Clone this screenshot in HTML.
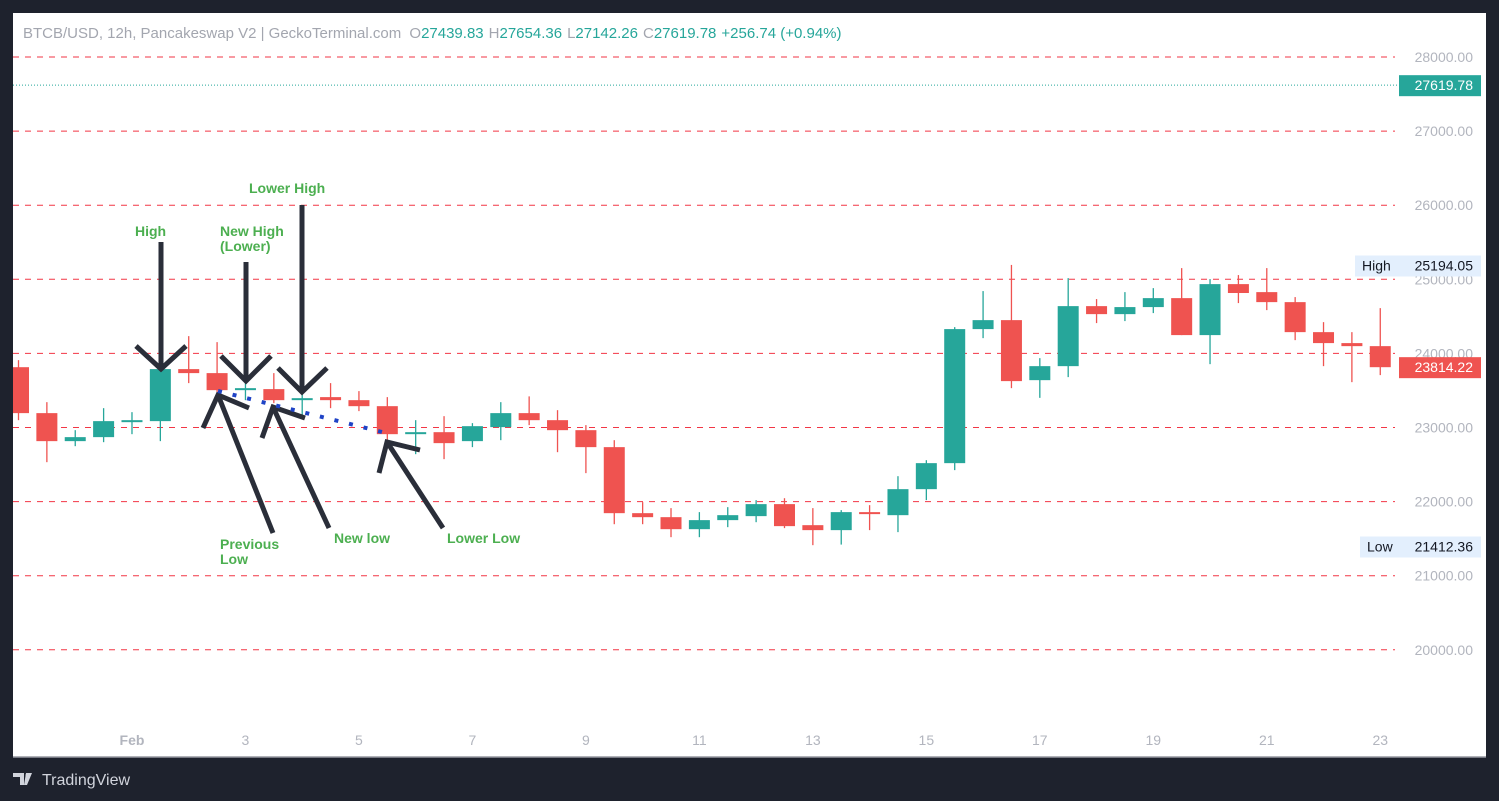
<!DOCTYPE html>
<html><head><meta charset="utf-8">
<style>
html,body{margin:0;padding:0;background:#1e222d;width:1499px;height:801px;overflow:hidden;font-family:"Liberation Sans",sans-serif;}
svg{display:block}
</style></head>
<body>
<svg id="chart" width="1499" height="801" xmlns="http://www.w3.org/2000/svg">
  <defs><clipPath id="plot"><rect x="13" y="13" width="1473" height="744"/></clipPath></defs>
  <rect x="0" y="0" width="1499" height="801" fill="#1e222d"/>
  <rect x="13" y="13" width="1473" height="744" fill="#ffffff"/>
  <line x1="13" y1="757" x2="1486" y2="757" stroke="#9598a1" stroke-width="1.5"/>
  <g id="grid"></g>
  <g id="ylabels"></g>
  <g id="xlabels"></g>
  <g id="candles" clip-path="url(#plot)"></g>
  <g id="anno"></g>
  <text x="23" y="38" font-size="15" fill="#a3a6af">BTCB/USD, 12h, Pancakeswap V2 | GeckoTerminal.com <tspan dx="4">O</tspan><tspan fill="#26a69a">27439.83</tspan><tspan dx="5">H</tspan><tspan fill="#26a69a">27654.36</tspan><tspan dx="5">L</tspan><tspan fill="#26a69a">27142.26</tspan><tspan dx="5">C</tspan><tspan fill="#26a69a">27619.78</tspan><tspan dx="5" fill="#26a69a">+256.74 (+0.94%)</tspan></text>
  <g>
    <path d="M13 773h11v12h-4v-8h-7z M26 773h6l-5 12h-3z" fill="#d1d4dc"/>
    <circle cx="27.5" cy="775.5" r="2" fill="#d1d4dc"/>
    <text x="42" y="785" font-size="16" fill="#d1d4dc">TradingView</text>
  </g>
</svg>
<script>
const priceTicks=[28000,27000,26000,25000,24000,23000,22000,21000,20000];
const dateLabels=["Feb","3","5","7","9","11","13","15","17","19","21","23"];
const dateIdx=[4,8,12,16,20,24,28,32,36,40,44,48];
const opens=[23814,23194,22816,22870,23072,23086,23788,23734,23504,23518,23383,23410,23369,23288,22910,22937,22816,23005,23194,23099,22964,22735,21844,21790,21628,21750,21804,21966,21682,21615,21858,21817,22168,22519,24328,24449,23639,23828,24638,24530,24625,24746,24247,24935,24827,24692,24287,24139,24098];
const highs=[23909,23342,22964,23261,23207,24193,24233,24152,23639,23734,23504,23599,23491,23410,23099,23153,23059,23342,23420,23234,23032,22829,21993,21912,21858,21925,22020,22046,21912,21885,21952,22343,22559,24355,24841,25194,23936,25016,24733,24827,24881,25151,25003,25057,25151,24760,24422,24287,24611];
const lows=[23099,22532,22748,22802,22910,22816,23599,23480,23369,23329,23167,23261,23221,22816,22640,22573,22735,22829,23032,22667,22384,21695,21695,21520,21520,21655,21722,21642,21412,21420,21615,21588,22020,22424,24206,23531,23400,23680,24409,24436,24544,24247,23855,24679,24584,24179,23828,23612,23707];
const closes=[23194,22816,22870,23086,23099,23788,23734,23504,23531,23369,23396,23369,23288,22910,22937,22789,23018,23194,23099,22964,22735,21844,21790,21628,21750,21817,21966,21669,21615,21858,21831,22168,22519,24328,24449,23626,23828,24638,24530,24625,24746,24247,24935,24815,24692,24287,24139,24098,23814];
const lastPrice=27619.78, closePrice=23814.22, hiPrice=25194.05, loPrice=21412.36;

const NS="http://www.w3.org/2000/svg";
function yScale(p){return 57+(28000-p)*0.0741;}
function xScale(i){return 18.5+i*28.37;}
function mk(tag,attrs,parent){const e=document.createElementNS(NS,tag);for(const k in attrs)e.setAttribute(k,attrs[k]);parent.appendChild(e);return e;}
const grid=document.getElementById('grid'),yl=document.getElementById('ylabels'),xl=document.getElementById('xlabels'),cg=document.getElementById('candles'),an=document.getElementById('anno');
priceTicks.forEach(p=>{
  const y=yScale(p);
  const l=mk('line',{x1:13,x2:1395,y1:y,y2:y,stroke:'#f23645','stroke-width':1,'stroke-dasharray':'6 6'},grid);
  
  
  const t=mk('text',{x:1473,y:y+5,'text-anchor':'end','font-size':14,fill:'#b2b5be'},yl);
  
  
  t.textContent=p.toFixed(2);
});
dateLabels.forEach((d,k)=>{
  const t=mk('text',{x:xScale(dateIdx[k]),y:745,'text-anchor':'middle','font-size':14,fill:'#b2b5be','font-weight':d==='Feb'?'bold':'normal'},xl);
  
  
  t.textContent=d;
});
const ly=yScale(lastPrice);
const lp=mk('line',{x1:13,x2:1399,y1:ly,y2:ly,stroke:'#26a69a','stroke-width':1,'stroke-dasharray':'1 2'},grid);


function badge(name,x,w,y,fill,textFill,label,val){
  const g=mk('g',{},yl);
  
  
  mk('rect',{x:x,y:y-10,width:w,height:21,fill:fill},g);
  if(label){const t=mk('text',{x:x+7,y:y+5,'font-size':14,fill:textFill},g);t.textContent=label;}
  const t2=mk('text',{x:1473,y:y+5,'text-anchor':'end','font-size':14,fill:textFill},g);t2.textContent=val.toFixed(2);
}
badge('high-badge',1355,126,265.5,'#e3effd','#131722','High',hiPrice);
badge('low-badge',1360,121,546.5,'#e3effd','#131722','Low',loPrice);
badge('last-price-badge',1399,82,ly,'#26a69a','#ffffff',null,lastPrice);
badge('close-price-badge',1399,82,yScale(closePrice),'#ef5350','#ffffff',null,closePrice);
opens.forEach((o,i)=>{
  const c=closes[i],up=c>=o,col=up?'#26a69a':'#ef5350',x=xScale(i);
  const g=mk('g',{},cg);
  
  
  mk('line',{x1:x,x2:x,y1:yScale(highs[i]),y2:yScale(lows[i]),stroke:col,'stroke-width':1.3},g);
  const top=yScale(Math.max(o,c)),bot=yScale(Math.min(o,c));
  mk('rect',{x:x-10.5,y:top,width:21,height:Math.max(2,bot-top),fill:col},g);
});
const ink='#2a2e39';
function poly(pts,name){const p=mk('polyline',{points:pts,fill:'none',stroke:ink,'stroke-width':5},an);}
poly('161,242 161,369','high-arrow');poly('136,346 161,369 186,346','high-arrow-head');
poly('246,262 246,381','new-high-arrow');poly('221,356 246,381 271,356','new-high-arrow-head');
poly('302,205 302,392','lower-high-arrow');poly('278,368 302,392 327,368','lower-high-arrow-head');
poly('218,395 273,533','previous-low-arrow');poly('203,428 218,395 249,408','previous-low-arrow-head');
poly('273,407 329,528','new-low-arrow');poly('262,438 273,407 305,418','new-low-arrow-head');
poly('387,442 443,528','lower-low-arrow');poly('379,473 387,442 420,450','lower-low-arrow-head');
const dl=mk('line',{x1:218,y1:391,x2:382,y2:432,stroke:'#1f43c6','stroke-width':4,'stroke-dasharray':'4 11'},an);


function lab(x,y,txt,name){const t=mk('text',{x:x,y:y,'font-size':14,'font-weight':'bold',fill:'#4caf50'},an);t.textContent=txt;}
lab(135,236,'High','label-high');
lab(220,236,'New High','label-new-high');lab(220,251,'(Lower)','label-new-high-lower');
lab(249,193,'Lower High','label-lower-high');
lab(220,549,'Previous','label-previous');lab(220,564,'Low','label-previous-low');
lab(334,543,'New low','label-new-low');
lab(447,543,'Lower Low','label-lower-low');
</script>
</body></html>
